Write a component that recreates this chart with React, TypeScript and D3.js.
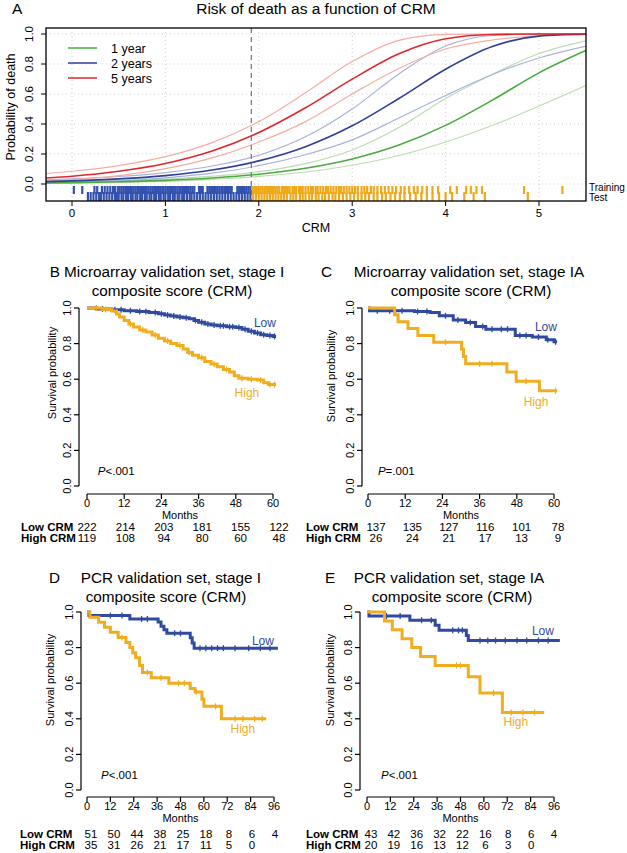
import React, { useEffect } from "react";
import * as d3 from "d3";

const FONT = "'Liberation Sans', Arial, Helvetica, sans-serif";
const W = 627;
const H = 853;

// ---------------- Panel A data ----------------
const crmGrid = [-0.28, 0, 0.5, 1, 1.5, 2, 2.5, 3, 3.5, 4, 4.5, 5, 5.51];
const yr1Main = [0.007, 0.009, 0.015, 0.024, 0.04, 0.065, 0.105, 0.167, 0.26, 0.391, 0.559, 0.741, 0.892];
const yr1Upper = [0.013, 0.016, 0.022, 0.033, 0.052, 0.082, 0.136, 0.227, 0.377, 0.57, 0.73, 0.87, 0.955];
const yr1Lower = [0.004, 0.005, 0.01, 0.018, 0.031, 0.051, 0.08, 0.125, 0.19, 0.28, 0.39, 0.52, 0.66];
const yr2Main = [0.016, 0.021, 0.034, 0.056, 0.093, 0.154, 0.249, 0.388, 0.57, 0.765, 0.916, 0.986, 0.999];
const yr2Upper = [0.028, 0.034, 0.05, 0.076, 0.12, 0.192, 0.315, 0.5, 0.734, 0.92, 0.99, 1.0, 1.0];
const yr2Lower = [0.008, 0.011, 0.022, 0.041, 0.072, 0.122, 0.195, 0.294, 0.44, 0.59, 0.73, 0.84, 0.92];
const yr5Main = [0.04, 0.052, 0.085, 0.137, 0.22, 0.343, 0.508, 0.699, 0.868, 0.968, 0.997, 1.0, 1.0];
const yr5Upper = [0.07, 0.085, 0.123, 0.182, 0.276, 0.416, 0.608, 0.816, 0.958, 0.998, 1.0, 1.0, 1.0];
const yr5Lower = [0.02, 0.03, 0.056, 0.102, 0.174, 0.28, 0.416, 0.6, 0.77, 0.9, 0.96, 0.99, 1.0];
const legendLabels = ["1 year", "2 years", "5 years"];
const crmTicks = [0, 1, 2, 3, 4, 5];
const probTicks = [0, 0.2, 0.4, 0.6, 0.8, 1.0];
const crmCutoff = 1.92;

const rugTrainBlue = [0.02, 0.11, 0.24, 0.27, 0.32, 0.35, 0.38, 0.41, 0.44, 0.46, 0.49, 0.51, 0.53, 0.55, 0.57, 0.59, 0.61, 0.62, 0.64, 0.66, 0.68, 0.7, 0.71, 0.73, 0.75, 0.77, 0.79, 0.8, 0.82, 0.84, 0.86, 0.88, 0.89, 0.91, 0.93, 0.95, 0.97, 0.98, 1.0, 1.02, 1.04, 1.06, 1.07, 1.09, 1.11, 1.13, 1.15, 1.16, 1.18, 1.2, 1.22, 1.24, 1.25, 1.27, 1.29, 1.31, 1.36, 1.38, 1.4, 1.45, 1.47, 1.49, 1.51, 1.52, 1.54, 1.56, 1.58, 1.6, 1.61, 1.63, 1.65, 1.67, 1.69, 1.71, 1.77, 1.79, 1.81, 1.83, 1.85, 1.87, 1.89, 1.91];
const rugTrainOrange = [1.93, 1.95, 1.97, 1.99, 2.0, 2.02, 2.04, 2.06, 2.08, 2.1, 2.12, 2.14, 2.16, 2.18, 2.2, 2.22, 2.25, 2.27, 2.29, 2.31, 2.33, 2.36, 2.38, 2.4, 2.43, 2.45, 2.47, 2.5, 2.53, 2.56, 2.58, 2.61, 2.63, 2.66, 2.69, 2.72, 2.74, 2.77, 2.8, 2.83, 2.86, 2.88, 2.91, 2.94, 2.97, 3.0, 3.03, 3.06, 3.1, 3.13, 3.16, 3.2, 3.23, 3.27, 3.31, 3.35, 3.39, 3.43, 3.47, 3.52, 3.56, 3.61, 3.66, 3.7, 3.75, 3.8, 3.86, 3.92, 4.05, 4.12, 4.22, 4.27, 4.33, 4.39, 4.84, 5.25];
const rugTestBlue = [0.17, 0.2, 0.23, 0.26, 0.29, 0.31, 0.34, 0.37, 0.4, 0.43, 0.46, 0.48, 0.5, 0.53, 0.55, 0.58, 0.6, 0.63, 0.65, 0.68, 0.7, 0.73, 0.75, 0.78, 0.8, 0.83, 0.85, 0.88, 0.9, 0.93, 0.95, 0.98, 1.0, 1.03, 1.05, 1.08, 1.1, 1.13, 1.15, 1.18, 1.2, 1.23, 1.26, 1.28, 1.31, 1.34, 1.37, 1.4, 1.43, 1.46, 1.49, 1.52, 1.55, 1.58, 1.61, 1.64, 1.67, 1.7, 1.73, 1.76, 1.79, 1.82, 1.85, 1.88, 1.91];
const rugTestOrange = [1.94, 1.97, 2.0, 2.03, 2.06, 2.09, 2.12, 2.15, 2.18, 2.21, 2.24, 2.27, 2.3, 2.34, 2.37, 2.4, 2.44, 2.47, 2.5, 2.54, 2.57, 2.61, 2.64, 2.68, 2.71, 2.75, 2.79, 2.82, 2.86, 2.9, 2.94, 2.98, 3.02, 3.06, 3.1, 3.14, 3.18, 3.23, 3.27, 3.32, 3.36, 3.41, 3.46, 3.51, 3.56, 3.62, 3.68, 3.74, 3.8, 3.86, 3.93, 4.0, 4.07, 4.2, 4.3, 4.42, 4.88];

// ---------------- KM data ----------------
const survTicks = [0, 0.2, 0.4, 0.6, 0.8, 1.0];
const months60 = [0, 12, 24, 36, 48, 60];
const months96 = [0, 12, 24, 36, 48, 60, 72, 84, 96];

// B
const bLowT = [0, 3, 8, 12, 16, 20, 23, 25, 27, 29, 31, 33, 34.5, 36, 38, 40, 42, 45, 48, 50, 52, 54, 56, 58, 60];
const bLowS = [1, 0.995, 0.99, 0.985, 0.98, 0.975, 0.968, 0.96, 0.955, 0.95, 0.945, 0.94, 0.93, 0.92, 0.91, 0.905, 0.9, 0.895, 0.89, 0.88, 0.87, 0.86, 0.85, 0.845, 0.84];
const bLowCens = [5, 9, 11, 14, 17, 19, 22, 24, 26, 28, 30, 32, 35, 37, 39, 41, 43, 44, 46, 47, 49, 51, 53, 55, 57, 59, 60.5];
const bHighT = [0, 5, 8, 9.5, 10.5, 12, 13.5, 15, 17, 19, 21, 23, 25, 27, 29, 31, 32.5, 34, 36, 38, 40, 42, 44, 46, 47.5, 49, 52, 55, 57, 58.5];
const bHighS = [1, 0.992, 0.983, 0.966, 0.95, 0.93, 0.91, 0.893, 0.877, 0.865, 0.848, 0.83, 0.815, 0.8, 0.79, 0.77, 0.75, 0.735, 0.72, 0.7, 0.685, 0.67, 0.655, 0.64, 0.62, 0.605, 0.6, 0.595, 0.58, 0.57];
const bHighCens = [3, 6, 14, 18, 22, 26, 30, 33, 37, 41, 45, 50, 53, 56, 59, 60.5];
const bRiskLow = [222, 214, 203, 181, 155, 122];
const bRiskHigh = [119, 108, 94, 80, 60, 48];

// C
const cLowT = [0, 0.5, 15, 20, 23, 27.5, 31.5, 34.7, 38, 47.5, 53, 57.5, 60];
const cLowS = [1, 0.985, 0.98, 0.975, 0.956, 0.933, 0.919, 0.896, 0.881, 0.845, 0.837, 0.822, 0.81];
const cLowCens = [3, 7, 11, 16, 19, 25, 29, 33, 37, 40, 43, 45, 49, 51, 55, 58, 60.5];
const cHighT = [0, 8.6, 9.7, 12.9, 16.1, 21.2, 30.2, 30.8, 31.5, 44.8, 47.8, 55.3];
const cHighS = [1, 0.962, 0.923, 0.885, 0.846, 0.808, 0.768, 0.727, 0.687, 0.641, 0.588, 0.535];
const cHighCens = [25, 36, 40, 51, 60.5];
const cRiskLow = [137, 135, 127, 116, 101, 78];
const cRiskHigh = [26, 24, 21, 17, 13, 9];

// D
const dLowT = [0, 1, 22, 36.5, 38, 39.5, 41, 53, 54, 55];
const dLowS = [1, 0.98, 0.961, 0.944, 0.92, 0.9, 0.88, 0.855, 0.826, 0.797];
const dLowCens = [12, 18, 28, 31, 45, 48, 58, 61, 64, 67, 70, 76, 83, 89, 94];
const dHighT = [0, 1.5, 6, 9, 12, 16, 20, 22, 23.5, 25, 27, 28.5, 33, 42, 53, 55.5, 59, 60, 69];
const dHighS = [1, 0.971, 0.943, 0.914, 0.886, 0.857, 0.829, 0.8, 0.771, 0.743, 0.7, 0.66, 0.63, 0.6, 0.57, 0.55, 0.51, 0.47, 0.4];
const dHighCens = [18, 31, 38, 47, 50, 56, 66, 76, 80, 86, 90];
const dRiskLow = [51, 50, 44, 38, 25, 18, 8, 6, 4];
const dRiskHigh = [35, 31, 26, 21, 17, 11, 5, 0];

// E
const eLowT = [0, 1, 22, 35, 37, 51, 52];
const eLowS = [1, 0.977, 0.954, 0.926, 0.897, 0.868, 0.84];
const eLowCens = [10, 17, 28, 33, 44, 47, 49, 58, 62, 66, 71, 77, 82, 88, 93];
const eHighT = [0, 9, 13, 18, 23, 27.5, 35, 52, 58, 69.5];
const eHighS = [1, 0.95, 0.9, 0.85, 0.8, 0.75, 0.7, 0.636, 0.545, 0.436];
const eHighCens = [46, 48, 65, 74, 80, 86];
const eRiskLow = [43, 42, 36, 32, 22, 16, 8, 6, 4];
const eRiskHigh = [20, 19, 16, 13, 12, 6, 3, 0];

// ---------------- styles ----------------
const GREEN = "#49ab3e";
const GREEN_L = "#bcdcb2";
const BLUE_A = "#2e3f99";
const BLUE_AL = "#aab1da";
const RED = "#e1262b";
const RED_L = "#f5ada2";
const KM_BLUE = "#2f4a9e";
const KM_ORANGE = "#efad1f";
const RUG_BLUE = "#3352b0";
const RUG_ORANGE = "#f0a818";

function PanelA() {
  const x = d3.scaleLinear().domain([0, 5]).range([72, 539]);
  const y = d3.scaleLinear().domain([0, 1]).range([184, 34]);
  const box = { l: 46, r: 586, t: 28, b: 201 };
  const line = (vals: number[]) =>
    d3
      .line<number>()
      .x((_, i) => x(crmGrid[i]))
      .y((v) => y(v))
      .curve(d3.curveMonotoneX)(vals) || "";
  const series = [
    { d: yr1Upper, c: GREEN_L, w: 1.2 },
    { d: yr1Lower, c: GREEN_L, w: 1.2 },
    { d: yr2Upper, c: BLUE_AL, w: 1.2 },
    { d: yr2Lower, c: BLUE_AL, w: 1.2 },
    { d: yr5Upper, c: RED_L, w: 1.2 },
    { d: yr5Lower, c: RED_L, w: 1.2 },
    { d: yr1Main, c: GREEN, w: 1.6 },
    { d: yr2Main, c: BLUE_A, w: 1.6 },
    { d: yr5Main, c: RED, w: 1.6 },
  ];
  const legendColors = [GREEN, BLUE_A, RED];
  const rug = (vals: number[], col: string, y1: number, y2: number, key: string) =>
    vals.map((v, i) => (
      <line key={key + i} x1={x(v)} x2={x(v)} y1={y1} y2={y2} stroke={col} strokeWidth={2.2} />
    ));
  return (
    <g>
      <text x={12} y={14} fontSize={15.5} fontFamily={FONT}>A</text>
      <text x={316} y={14} fontSize={15.5} fontFamily={FONT} textAnchor="middle">
        Risk of death as a function of CRM
      </text>
      <defs>
        <clipPath id="clipA">
          <rect x={box.l} y={box.t} width={box.r - box.l} height={box.b - box.t} />
        </clipPath>
      </defs>
      {crmTicks.map((t) => (
        <line key={"gx" + t} x1={x(t)} x2={x(t)} y1={box.t} y2={box.b} stroke="#cfcfcf" strokeDasharray="1 3" />
      ))}
      {probTicks.map((t) => (
        <line key={"gy" + t} x1={box.l} x2={box.r} y1={y(t)} y2={y(t)} stroke="#cfcfcf" strokeDasharray="1 3" />
      ))}
      <g clipPath="url(#clipA)">
        {series.map((s, i) => (
          <path key={i} d={line(s.d)} fill="none" stroke={s.c} strokeWidth={s.w} />
        ))}
        {rug(rugTrainBlue, RUG_BLUE, 186, 194, "tb")}
        {rug(rugTrainOrange, RUG_ORANGE, 186, 194, "to")}
        {rug(rugTestBlue, RUG_BLUE, 192, 201, "sb")}
        {rug(rugTestOrange, RUG_ORANGE, 192, 201, "so")}
      </g>
      <line x1={x(crmCutoff)} x2={x(crmCutoff)} y1={box.t} y2={box.b} stroke="#8c5f9f" strokeWidth={1.2} strokeDasharray="5 4" />
      <rect x={box.l} y={box.t} width={box.r - box.l} height={box.b - box.t} fill="none" stroke="#000" strokeWidth={1.3} />
      {probTicks.map((t) => (
        <g key={"yt" + t}>
          <line x1={box.l - 5} x2={box.l} y1={y(t)} y2={y(t)} stroke="#000" />
          <text
            transform={`translate(${33},${y(t)}) rotate(-90)`}
            fontSize={11.5}
            fontFamily={FONT}
            textAnchor="middle"
          >
            {t.toFixed(1)}
          </text>
        </g>
      ))}
      <text transform={`translate(15,107) rotate(-90)`} fontSize={12.5} fontFamily={FONT} textAnchor="middle">
        Probability of death
      </text>
      {crmTicks.map((t) => (
        <g key={"xt" + t}>
          <line x1={x(t)} x2={x(t)} y1={box.b} y2={box.b + 5} stroke="#000" />
          <text x={x(t)} y={217} fontSize={11.5} fontFamily={FONT} textAnchor="middle">
            {t}
          </text>
        </g>
      ))}
      <text x={316} y={232} fontSize={12.5} fontFamily={FONT} textAnchor="middle">CRM</text>
      <text x={589} y={191} fontSize={10} fontFamily={FONT}>Training</text>
      <text x={589} y={201} fontSize={10} fontFamily={FONT}>Test</text>
      {legendLabels.map((lab, i) => (
        <g key={lab}>
          <line x1={68} x2={97} y1={48 + i * 15} y2={48 + i * 15} stroke={legendColors[i]} strokeWidth={1.5} />
          <text x={111} y={52.5 + i * 15} fontSize={12.5} fontFamily={FONT}>{lab}</text>
        </g>
      ))}
    </g>
  );
}

type Curve = { t: number[]; s: number[]; end: number; cens: number[]; color: string };
type PanelCfg = {
  letter: string;
  letterX: number;
  title1: string;
  title1X: number;
  title2X: number;
  titleY: number;
  yAxisX: number;
  xRange: [number, number];
  yRange: [number, number];
  xAxisY: number;
  maxMonth: number;
  ticks: number[];
  curves: Curve[];
  lowLabel: [number, number];
  highLabel: [number, number];
  pText: string;
  pPos: [number, number];
  ylabY: number;
  ylabX: number;
  tableLeft: number;
  tableRange: [number, number];
  tableY: number;
  riskLow: number[];
  riskHigh: number[];
};

function stepAt(c: Curve, time: number) {
  const i = d3.bisectRight(c.t, time) - 1;
  return c.s[Math.max(0, i)];
}

function KMPanel({ cfg }: { cfg: PanelCfg }) {
  const x = d3.scaleLinear().domain([0, cfg.maxMonth]).range(cfg.xRange);
  const y = d3.scaleLinear().domain([0, 1]).range(cfg.yRange);
  const tx = d3
    .scaleLinear()
    .domain([0, cfg.ticks.length - 1])
    .range(cfg.tableRange);
  const lineGen = d3
    .line<[number, number]>()
    .x((d) => x(d[0]))
    .y((d) => y(d[1]))
    .curve(d3.curveStepAfter);
  const fs = 11;
  return (
    <g fontFamily={FONT}>
      {cfg.letter === "B" ? (
        <text x={cfg.title1X} y={cfg.titleY} fontSize={15.3} textAnchor="middle">
          {cfg.letter + " " + cfg.title1}
        </text>
      ) : (
        <>
          <text x={cfg.letterX} y={cfg.titleY} fontSize={15.3}>{cfg.letter}</text>
          <text x={cfg.title1X} y={cfg.titleY} fontSize={15.3} textAnchor="middle">{cfg.title1}</text>
        </>
      )}
      <text x={cfg.title2X} y={cfg.titleY + 18.5} fontSize={15.3} textAnchor="middle">
        composite score (CRM)
      </text>
      <line x1={cfg.yAxisX} x2={cfg.yAxisX} y1={y(0)} y2={y(1)} stroke="#000" strokeWidth={1.2} />
      {survTicks.map((t) => (
        <g key={"y" + t}>
          <line x1={cfg.yAxisX - 5} x2={cfg.yAxisX} y1={y(t)} y2={y(t)} stroke="#000" strokeWidth={1.2} />
          <text transform={`translate(${cfg.yAxisX - 8},${y(t)}) rotate(-90)`} fontSize={fs} textAnchor="middle">
            {t.toFixed(1)}
          </text>
        </g>
      ))}
      <text transform={`translate(${cfg.ylabX},${cfg.ylabY}) rotate(-90)`} fontSize={11} textAnchor="middle">
        Survival probability
      </text>
      <line x1={x(0)} x2={x(cfg.maxMonth)} y1={cfg.xAxisY} y2={cfg.xAxisY} stroke="#000" strokeWidth={1.2} />
      {cfg.ticks.map((t) => (
        <g key={"x" + t}>
          <line x1={x(t)} x2={x(t)} y1={cfg.xAxisY} y2={cfg.xAxisY + 5} stroke="#000" strokeWidth={1.2} />
          <text x={x(t)} y={cfg.xAxisY + 13} fontSize={fs} textAnchor="middle">{t}</text>
        </g>
      ))}
      <text x={(x(0) + x(cfg.maxMonth)) / 2} y={cfg.xAxisY + 25} fontSize={fs} textAnchor="middle">Months</text>
      {cfg.curves.map((c, ci) => {
        const pts: [number, number][] = c.t.map((t, i) => [t, c.s[i]] as [number, number]);
        pts.push([c.end, c.s[c.s.length - 1]]);
        return (
          <g key={ci}>
            <path d={lineGen(pts) || ""} fill="none" stroke={c.color} strokeWidth={3} />
            {c.cens.map((ct, k) => (
              <line
                key={k}
                x1={x(ct)}
                x2={x(ct)}
                y1={y(stepAt(c, ct)) - 3}
                y2={y(stepAt(c, ct)) + 3}
                stroke={c.color}
                strokeWidth={1.3}
              />
            ))}
          </g>
        );
      })}
      <text x={x(cfg.lowLabel[0])} y={y(cfg.lowLabel[1])} fontSize={12} fill={KM_BLUE} textAnchor="middle">Low</text>
      <text x={x(cfg.highLabel[0])} y={y(cfg.highLabel[1])} fontSize={12} fill={KM_ORANGE} textAnchor="middle">High</text>
      <text x={x(cfg.pPos[0])} y={y(cfg.pPos[1])} fontSize={11.5}>
        <tspan fontStyle="italic">P</tspan>
        {cfg.pText}
      </text>
      <text x={cfg.tableLeft} y={cfg.tableY} fontSize={11.5} fontWeight="bold">Low CRM</text>
      <text x={cfg.tableLeft} y={cfg.tableY + 11} fontSize={11.5} fontWeight="bold">High CRM</text>
      {cfg.riskLow.map((v, i) => (
        <text key={"rl" + i} x={tx(i)} y={cfg.tableY} fontSize={11.5} textAnchor="middle">{v}</text>
      ))}
      {cfg.riskHigh.map((v, i) => (
        <text key={"rh" + i} x={tx(i)} y={cfg.tableY + 11} fontSize={11.5} textAnchor="middle">{v}</text>
      ))}
    </g>
  );
}

const panelB: PanelCfg = {
  letter: "B", letterX: 47, title1: "Microarray validation set, stage I", title1X: 167, title2X: 172, titleY: 277,
  yAxisX: 79, xRange: [87, 273], yRange: [486, 308], xAxisY: 494, maxMonth: 60, ticks: months60,
  curves: [
    { t: bLowT, s: bLowS, end: 61, cens: bLowCens, color: KM_BLUE },
    { t: bHighT, s: bHighS, end: 61, cens: bHighCens, color: KM_ORANGE },
  ],
  lowLabel: [57.4, 0.893], highLabel: [51.6, 0.5], pText: "<.001", pPos: [3.5, 0.062],
  ylabX: 56, ylabY: 373, tableLeft: 21, tableRange: [87, 279], tableY: 531, riskLow: bRiskLow, riskHigh: bRiskHigh,
};
const panelC: PanelCfg = {
  letter: "C", letterX: 321, title1: "Microarray validation set, stage IA", title1X: 469, title2X: 471, titleY: 277,
  yAxisX: 362, xRange: [368, 554], yRange: [486, 308], xAxisY: 494, maxMonth: 60, ticks: months60,
  curves: [
    { t: cLowT, s: cLowS, end: 61, cens: cLowCens, color: KM_BLUE },
    { t: cHighT, s: cHighS, end: 61, cens: cHighCens, color: KM_ORANGE },
  ],
  lowLabel: [57.4, 0.87], highLabel: [54.2, 0.45], pText: "=.001", pPos: [3.2, 0.062],
  ylabX: 335, ylabY: 376, tableLeft: 306, tableRange: [376, 558], tableY: 531, riskLow: cRiskLow, riskHigh: cRiskHigh,
};
const panelD: PanelCfg = {
  letter: "D", letterX: 49, title1: "PCR validation set, stage I", title1X: 171, title2X: 166, titleY: 583,
  yAxisX: 81, xRange: [87, 274], yRange: [790, 612], xAxisY: 797, maxMonth: 96, ticks: months96,
  curves: [
    { t: dLowT, s: dLowS, end: 98, cens: dLowCens, color: KM_BLUE },
    { t: dHighT, s: dHighS, end: 92, cens: dHighCens, color: KM_ORANGE },
  ],
  lowLabel: [90.3, 0.815], highLabel: [80, 0.32], pText: "<.001", pPos: [7.2, 0.062],
  ylabX: 54, ylabY: 680, tableLeft: 20, tableRange: [91, 275], tableY: 838, riskLow: dRiskLow, riskHigh: dRiskHigh,
};
const panelE: PanelCfg = {
  letter: "E", letterX: 325, title1: "PCR validation set, stage IA", title1X: 449, title2X: 452, titleY: 583,
  yAxisX: 360, xRange: [367, 554], yRange: [790, 612], xAxisY: 797, maxMonth: 96, ticks: months96,
  curves: [
    { t: eLowT, s: eLowS, end: 99, cens: eLowCens, color: KM_BLUE },
    { t: eHighT, s: eHighS, end: 91, cens: eHighCens, color: KM_ORANGE },
  ],
  lowLabel: [90.3, 0.87], highLabel: [76.4, 0.36], pText: "<.001", pPos: [7.2, 0.062],
  ylabX: 334, ylabY: 680, tableLeft: 306, tableRange: [371, 554], tableY: 838, riskLow: eRiskLow, riskHigh: eRiskHigh,
};

export default function App() {
  useEffect(() => {
    document.body.style.margin = "0";
  }, []);
  return (
    <svg
      width={W}
      height={H}
      viewBox={`0 0 ${W} ${H}`}
      style={{ position: "absolute", left: 0, top: 0, background: "#fff" }}
    >
      <rect x={0} y={0} width={W} height={H} fill="#fff" />
      <PanelA />
      <KMPanel cfg={panelB} />
      <KMPanel cfg={panelC} />
      <KMPanel cfg={panelD} />
      <KMPanel cfg={panelE} />
    </svg>
  );
}
